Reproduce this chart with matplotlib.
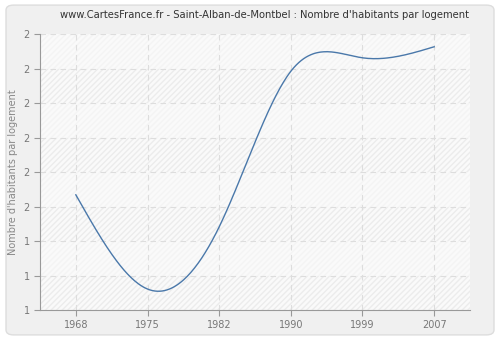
import numpy as np
import matplotlib
matplotlib.use('Agg')
import matplotlib.pyplot as plt
from matplotlib.patches import FancyBboxPatch, Rectangle
from matplotlib.ticker import FuncFormatter

# Data
years = ['1968', '1975', '1982', '1990', '1999', '2007']
habitants = [1.534, 1.261, 1.441, 1.892, 1.931, 1.963]
y_ticks = [1.2, 1.3, 1.4, 1.5, 1.6, 1.7, 1.8, 1.9, 2.0]


def natural_spline(x, y, n=300):
    # natural cubic spline, only used to draw the smooth line
    x = np.asarray(x, float)
    y = np.asarray(y, float)
    k = len(x)
    h = np.diff(x)
    A = np.zeros((k, k))
    b = np.zeros(k)
    A[0, 0] = A[-1, -1] = 1
    for i in range(1, k - 1):
        A[i, i - 1] = h[i - 1]
        A[i, i] = 2 * (h[i - 1] + h[i])
        A[i, i + 1] = h[i]
        b[i] = 3 * ((y[i + 1] - y[i]) / h[i] - (y[i] - y[i - 1]) / h[i - 1])
    c = np.linalg.solve(A, b)
    xs = np.linspace(x[0], x[-1], n)
    idx = np.clip(np.searchsorted(x, xs) - 1, 0, k - 2)
    dx = xs - x[idx]
    bb = (y[idx + 1] - y[idx]) / h[idx] - h[idx] * (2 * c[idx] + c[idx + 1]) / 3
    d = (c[idx + 1] - c[idx]) / (3 * h[idx])
    ys = y[idx] + bb * dx + c[idx] * dx ** 2 + d * dx ** 3
    return xs, ys


fig = plt.figure(figsize=(5, 3.4), dpi=100)
fig.patch.set_facecolor('white')

# rounded grey frame
frame = FancyBboxPatch((0.012, 0.015), 0.976, 0.97, boxstyle='round,pad=0,rounding_size=0.015',
                       transform=fig.transFigure, facecolor='#f0f0f0', edgecolor='#dddddd',
                       linewidth=1, zorder=-10)
fig.patches.append(frame)

ax = fig.add_axes([0.08, 0.088, 0.86, 0.812])
ax.set_facecolor('#fafafa')

x = np.arange(len(years))
ax.set_xlim(-0.5, 5.5)
ax.set_ylim(y_ticks[0], y_ticks[-1])

# hatched background
ax.add_patch(Rectangle((0, 0), 1, 1, transform=ax.transAxes, facecolor='none',
                       edgecolor='#ececec', hatch='//////', linewidth=0, zorder=0))
# alternate lighter bands
for i in range(1, len(y_ticks) - 1, 2):
    ax.axhspan(y_ticks[i], y_ticks[i + 1], color='#fafafa', alpha=0.6, zorder=0.5, linewidth=0)

ax.grid(True, color='#dddddd', linestyle=(0, (5, 4)), linewidth=0.8, zorder=1)

xs, ys = natural_spline(x, habitants)
ax.plot(xs, ys, color='#4a78aa', linewidth=1.0, zorder=3)

ax.set_xticks(x)
ax.set_xticklabels(years)
ax.set_yticks(y_ticks)
ax.yaxis.set_major_formatter(FuncFormatter(lambda v, p: f'{v:.0f}'))

for s in ['top', 'right']:
    ax.spines[s].set_visible(False)
for s in ['left', 'bottom']:
    ax.spines[s].set_color('#999999')
ax.tick_params(colors='#999999', labelcolor='#777777', labelsize=7, length=4, width=0.8)

ax.set_ylabel("Nombre d'habitants par logement", fontsize=7, color='#888888')
fig.text(0.53, 0.955, "www.CartesFrance.fr - Saint-Alban-de-Montbel : Nombre d'habitants par logement",
         ha='center', va='center', fontsize=7.2, color='#333333')

fig.savefig('out.png', dpi=100, facecolor=fig.get_facecolor())
